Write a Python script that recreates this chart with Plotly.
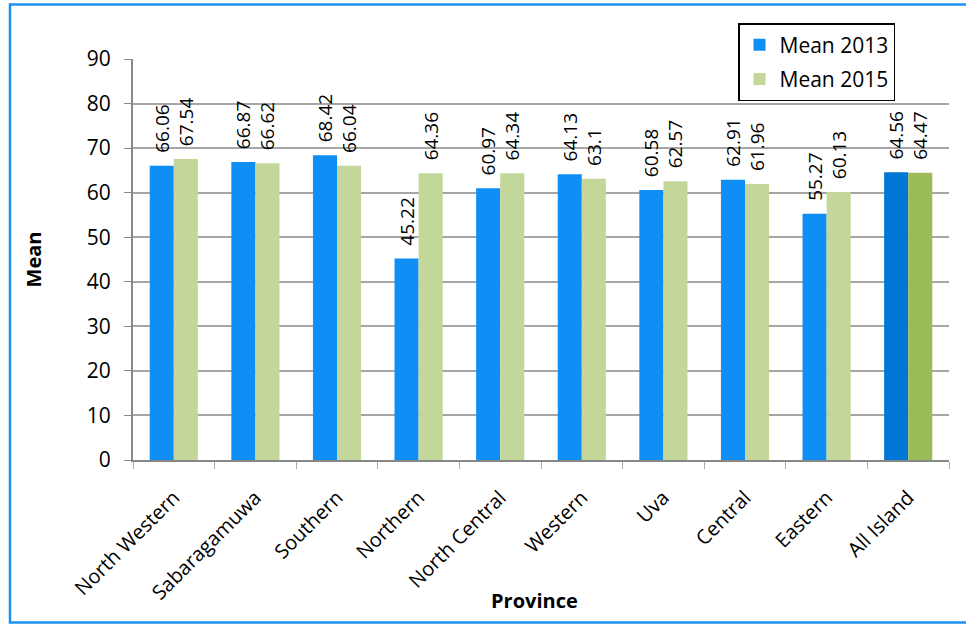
import plotly.graph_objects as go

provinces = ["North Western", "Sabaragamuwa", "Southern", "Northern", "North Central",
             "Western", "Uva", "Central", "Eastern", "All Island"]
mean_2013 = [66.06, 66.87, 68.42, 45.22, 60.97, 64.13, 60.58, 62.91, 55.27, 64.56]
mean_2015 = [67.54, 66.62, 66.04, 64.36, 64.34, 63.1, 62.57, 61.96, 60.13, 64.47]
y_ticks = [0, 10, 20, 30, 40, 50, 60, 70, 80, 90]

BLUE, BLUE_ALL = "#0f8ff5", "#0077d6"
GREEN, GREEN_ALL = "#c4d79b", "#9bbb59"
FONT = "Open Sans"
PAD = "\u00a0\u00a0"  # small gap between a bar top and its rotated value label

W, H = 966, 624
L, R, T, B = 133, 17, 59, 164
PW, PH = W - L - R, H - T - B


def px_to_paper_x(px):
    return (px - L) / PW


def px_to_paper_y(py):
    return (H - B - py) / PH


def bar_colors(base, highlight):
    return [highlight if p == "All Island" else base for p in provinces]


def bar_trace(name, values, base, highlight, group):
    return go.Bar(
        name=name, x=provinces, y=values,
        marker=dict(color=bar_colors(base, highlight), line=dict(width=0)),
        text=[PAD + f"{v:g}" for v in values], textposition="outside", textangle=-90,
        constraintext="none",
        textfont=dict(family=FONT, size=19, color="black"), cliponaxis=False,
        legendgroup=group,
    )


fig = go.Figure()
fig.add_trace(bar_trace("Mean 2013", mean_2013, BLUE, BLUE_ALL, "a"))
fig.add_trace(bar_trace("Mean 2015", mean_2015, GREEN, GREEN_ALL, "b"))

fig.update_layout(
    width=W, height=H,
    margin=dict(l=L, r=R, t=T, b=B, autoexpand=False),
    paper_bgcolor="white", plot_bgcolor="white",
    font=dict(family=FONT, size=20, color="black"),
    barmode="group", bargap=0.41, bargroupgap=0,
    legend=dict(
        x=px_to_paper_x(738), y=px_to_paper_y(23), xanchor="left", yanchor="top",
        bordercolor="black", borderwidth=1.5, bgcolor="white",
        font=dict(family=FONT, size=21), traceorder="grouped", tracegroupgap=4,
    ),
    xaxis=dict(
        tickangle=-45, tickfont=dict(family=FONT, size=20), ticklabelstandoff=16,
        showline=True, linecolor="#888888", linewidth=2,
        ticks="outside", ticklen=7, tickcolor="#aaaaaa", tickson="boundaries",
        showgrid=False,
    ),
    yaxis=dict(
        title=dict(text="<b>Mean</b>", font=dict(family=FONT, size=20), standoff=40),
        range=[0, 90], tickvals=y_ticks, tickfont=dict(family=FONT, size=21),
        ticklabelstandoff=9,
        showline=True, linecolor="#888888", linewidth=2,
        ticks="outside", ticklen=7, tickcolor="#888888",
        showgrid=True, gridcolor="#a6a6a6", gridwidth=1.5, zeroline=False,
    ),
    annotations=[dict(
        text="<b>Province</b>", xref="paper", yref="paper",
        x=px_to_paper_x(534), y=px_to_paper_y(600), xanchor="center", yanchor="middle",
        showarrow=False, font=dict(family=FONT, size=20, color="black"),
    )],
    shapes=[dict(
        type="rect", xref="paper", yref="paper", layer="above",
        x0=px_to_paper_x(10), x1=px_to_paper_x(975),
        y0=px_to_paper_y(622.5), y1=px_to_paper_y(4.5),
        line=dict(color="#1e90f0", width=2.5), fillcolor="rgba(0,0,0,0)",
    )],
)

fig.write_html("out.html")
